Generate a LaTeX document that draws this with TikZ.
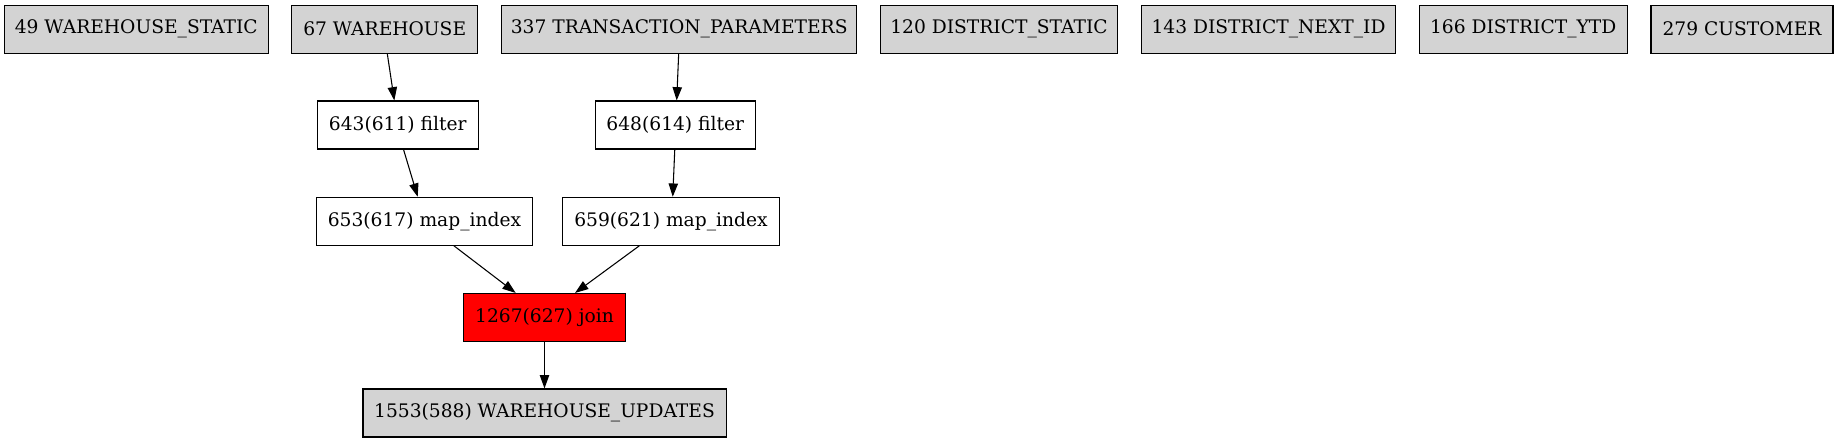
\documentclass[tikz,border=0pt]{standalone}
\usepackage{fontspec}
\setmainfont{DejaVu Serif}
\usetikzlibrary{arrows.meta}
\definecolor{gvgray}{HTML}{D3D3D3}
\definecolor{gvred}{HTML}{FF0000}
\tikzset{
  box/.style={draw=black, line width=0.8pt, rectangle, inner sep=0pt,
    minimum height=36pt, font=\fontsize{14pt}{16pt}\selectfont, text=black},
  src/.style={box, fill=gvgray},
  op/.style={box, fill=white},
  hot/.style={box, fill=gvred},
  edge/.style={draw=black, line width=0.8pt, -{Triangle[length=10pt,width=7pt]}}
}
\begin{document}
\begin{tikzpicture}[x=0.75pt, y=-0.75pt]
\useasboundingbox (0,0) rectangle (1838,443);
\fill[white] (0,0) rectangle (1838,443);
% top row
\node[src, minimum width=198pt]   (n49)  at (136.3,29.2) {49 WAREHOUSE\_STATIC};
\node[src, minimum width=139.5pt] (n67)  at (384.7,29.2) {67 WAREHOUSE};
\node[src, minimum width=266.3pt] (n337) at (679.2,29.2) {337 TRANSACTION\_PARAMETERS};
\node[src, minimum width=177.5pt] (n120) at (999,29.2) {120 DISTRICT\_STATIC};
\node[src, minimum width=190.3pt] (n143) at (1268.5,29.2) {143 DISTRICT\_NEXT\_ID};
\node[src, minimum width=155.8pt] (n166) at (1523.2,29.2) {166 DISTRICT\_YTD};
\node[src, minimum width=136.5pt] (n279) at (1742,29.2) {279 CUSTOMER};
% filters
\node[op, minimum width=120.75pt] (n643) at (397.8,125) {643(611) filter};
\node[op, minimum width=120pt]    (n648) at (675.3,125) {648(614) filter};
% map_index
\node[op, minimum width=162.3pt] (n653) at (424.5,221.3) {653(617) map\_index};
\node[op, minimum width=162.5pt] (n659) at (671,221.3) {659(621) map\_index};
% join
\node[hot, minimum width=121.2pt] (n1267) at (544.5,317.5) {1267(627) join};
% sink
\node[src, minimum width=272.3pt] (n1553) at (544.5,413) {1553(588) WAREHOUSE\_UPDATES};
% edges
\draw[edge] ([xshift=1.95pt]n67.south) -- ([xshift=-2.6pt]n643.north);
\draw[edge] ([xshift=-0.4pt]n337.south) -- ([xshift=1.05pt]n648.north);
\draw[edge] ([xshift=4.3pt]n643.south) -- ([xshift=-5.1pt]n653.north);
\draw[edge] ([xshift=-0.4pt]n648.south) -- ([xshift=1.3pt]n659.north);
\draw[edge] ([xshift=22.1pt]n653.south) -- ([xshift=-21.6pt]n1267.north);
\draw[edge] ([xshift=-23.8pt]n659.south) -- ([xshift=22.9pt]n1267.north);
\draw[edge] (n1267.south) -- (n1553.north);
\end{tikzpicture}
\end{document}
